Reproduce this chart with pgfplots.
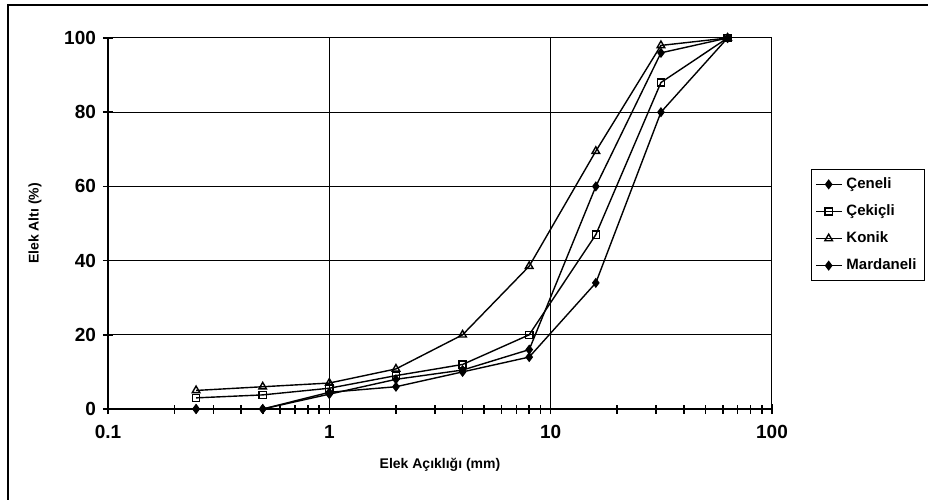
\documentclass[border=0pt]{standalone}
\usepackage{pgfplots}
\pgfplotsset{compat=1.18}
\usepackage{fontspec}
\setmainfont{Liberation Sans}
\begin{document}
\begin{tikzpicture}
\path[use as bounding box] (-54pt,-45pt) rectangle (410pt,204.5pt);
\begin{axis}[
  at={(0,0)}, anchor=south west,
  scale only axis,
  width=332pt, height=185.5pt,
  xmode=log, log basis x=10,
  xmin=0.1, xmax=100,
  ymin=0, ymax=100,
  ytick={0,20,40,60,80,100},
  xtick={0.1,1,10,100},
  xticklabels={0.1,1,10,100},
  minor xtick={0.2,0.3,0.4,0.5,0.6,0.7,0.8,0.9,2,3,4,5,6,7,8,9,20,30,40,50,60,70,80,90},
  minor y tick num=0,
  axis x line=bottom, axis y line=left,
  axis line style={-, line width=1.3pt},
  grid=major,
  major grid style={black, line width=0.5pt},
  minor grid style={draw=none},
  tick align=center,
  major tick length=5pt, minor tick length=4.5pt,
  tick style={black, line width=0.8pt},
  ticklabel style={font=\fontsize{9.5}{10}\selectfont\bfseries},
  /pgf/number format/assume math mode=true,
  xticklabel style={yshift=-2pt},
  xlabel={Elek Açıklığı (mm)},
  ylabel={Elek Altı (\%)},
  label style={font=\fontsize{7}{8}\selectfont\bfseries},
  xlabel style={at={(axis description cs:0.5,-0.151)}, anchor=center},
  ylabel style={at={(axis description cs:-0.11,0.5)}, anchor=center, rotate=0},
  legend style={at={(1.0587,0.647)}, anchor=north west, draw=black, line width=0.5pt,
    font=\fontsize{7.5}{9}\selectfont\bfseries, row sep=2.6pt, inner sep=2pt,
    cells={anchor=west}},
  legend image code/.code={
    \draw[#1, line width=0.7pt] (0cm,0cm) -- (0.45cm,0cm);
    \draw[#1, mark repeat=2, mark phase=2] plot coordinates {(0cm,0cm) (0.22cm,0cm) (0.45cm,0cm)};
  },
  every axis plot/.append style={black, line width=0.7pt, mark size=2pt},
  clip=false,
]
\addplot[mark=diamond*] coordinates {
  (0.25,0) (0.5,0) (1,4.5) (2,6) (4,10) (8,14) (16,34) (31.5,80) (63,100)
};
\addlegendentry{Çeneli}
\addplot[mark=square, mark size=1.8pt, mark options={fill=white}] coordinates {
  (0.25,3) (0.5,3.8) (1,5.6) (2,9) (4,12) (8,20) (16,47) (31.5,88) (63,100)
};
\addlegendentry{Çekiçli}
\addplot[mark=triangle, mark size=2.2pt, mark options={fill=white}] coordinates {
  (0.25,5) (0.5,6) (1,7) (2,10.8) (4,20) (8,38.5) (16,69.5) (31.5,98) (63,100)
};
\addlegendentry{Konik}
\addplot[mark=diamond*] coordinates {
  (0.25,0) (0.5,0) (1,4) (2,8) (4,10.5) (8,16) (16,60) (31.5,96) (63,100)
};
\addlegendentry{Mardaneli}
\end{axis}
\draw[black, line width=0.6pt] (-50pt,-60pt) -- (-50pt,202pt) -- (420pt,202pt);
\end{tikzpicture}
\end{document}
